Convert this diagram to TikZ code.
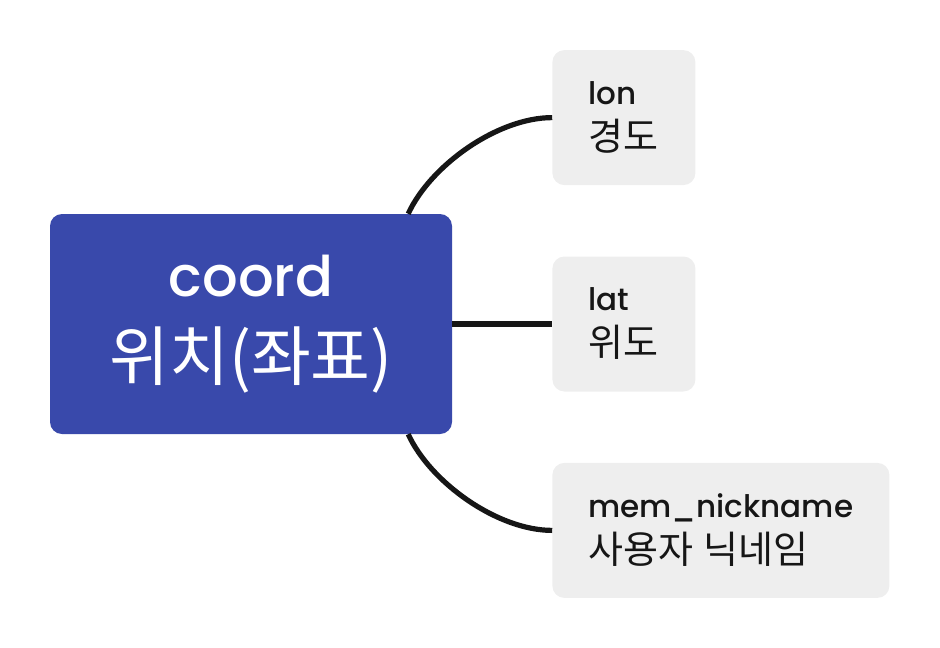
\documentclass[tikz,border=0pt]{standalone}
\usepackage{fontspec}
\setmainfont{Poppins}[UprightFont=* Medium]
\newfontfamily\kofont{Noto Sans CJK KR}
\usetikzlibrary{positioning}
\definecolor{rootblue}{HTML}{3949AB}
\definecolor{leafgray}{HTML}{EEEEEE}
\definecolor{branch}{HTML}{161616}

\begin{document}
\begin{tikzpicture}[x=1pt,y=-1pt,
    node distance=71pt and 100pt,
    root/.style={fill=rootblue,text=white,rounded corners=12pt,minimum width=402pt,minimum height=220pt,
      inner sep=0pt,align=center,font=\fontsize{56}{84}\selectfont},
    leaf/.style={fill=leafgray,text=branch,rounded corners=12pt,minimum height=135pt,
      inner xsep=36pt,inner ysep=0pt,align=left,font=\fontsize{31}{46}\selectfont},
    branchline/.style={draw=branch,line width=5.2pt}]
  \useasboundingbox (0,0) rectangle (940,648);
  % central topic
  \node[root] (coord) at (251,324) {coord\\{\kofont\fontsize{65}{84}\selectfont 위치(좌표)}};
  % subtopics
  \node[leaf,text width=71pt,right=of coord] (lat) {lat\\{\kofont\fontsize{38}{46}\selectfont 위도}};
  \node[leaf,text width=71pt,above=of lat] (lon) {lon\\{\kofont\fontsize{38}{46}\selectfont 경도}};
  \node[leaf,text width=265pt,below=71pt of lat.south west,anchor=north west] (nick)
    {mem\_nickname\\{\kofont\fontsize{38}{46}\selectfont 사용자 닉네임}};
  % branches
  \draw[branchline] ([xshift=-44pt]coord.north east) .. controls +(22,-48) and +(-55,0) .. (lon.west);
  \draw[branchline] (coord.east) -- (lat.west);
  \draw[branchline] ([xshift=-44pt]coord.south east) .. controls +(22,48) and +(-55,0) .. (nick.west);
\end{tikzpicture}
\end{document}
